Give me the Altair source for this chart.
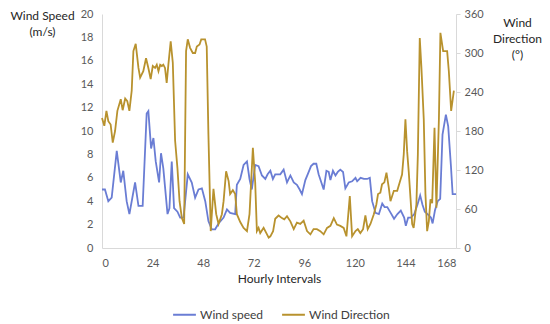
import altair as alt
import pandas as pd

# ---- data ----
speed_hours = [0, 1.4, 3.0, 4.6, 7.0, 8.9, 10.1, 11.7, 13.0, 15.7, 17.3, 19.3, 21.2, 22.0, 23.3, 24.4,
               25.5, 27.1, 28.0, 29.1, 31.1, 32.0, 33.1, 34.2, 35.8, 37.1, 38.7, 40.7, 42.6, 44.2,
               45.8, 47.4, 49.0, 50.5, 52.1, 53.7, 55.3, 57.7, 59.3, 60.8, 63.2, 64.0, 65.6, 67.2,
               68.8, 70.0, 71.1, 72.7, 74.3, 75.9, 77.5, 78.6, 79.9, 81.1, 82.2, 84.6, 86.2, 87.8,
               89.4, 91.0, 92.5, 93.8, 94.9, 96.5, 98.1, 99.2, 100.4, 101.7, 102.8, 104.1, 105.2,
               106.5, 107.6, 108.4, 109.6, 110.8, 111.9, 113.1, 114.4, 115.5, 117.1, 118.7, 120.3,
               121.1, 122.7, 124.3, 125.8, 127.1, 128.2, 129.8, 131.4, 133.0, 134.1, 135.4, 137.0,
               138.6, 140.2, 141.8, 143.4, 144.2, 145.3, 146.6, 148.2, 149.7, 151.0, 152.1, 153.2,
               154.5, 156.1, 156.9, 158.0, 159.3, 160.5, 161.6, 163.2, 164.3, 165.6, 166.4, 168.0]
speed_values = [5.0, 5.0, 4.0, 4.3, 8.3, 5.6, 6.6, 4.0, 2.9, 5.6, 3.6, 3.6, 11.5, 11.7, 8.5, 9.4,
                7.4, 5.6, 8.1, 6.8, 2.9, 3.4, 7.4, 3.4, 3.1, 2.6, 2.6, 6.3, 5.6, 4.3,
                5.0, 5.1, 4.0, 2.3, 1.6, 1.6, 2.1, 2.6, 3.3, 3.0, 2.9, 5.4, 5.9, 7.1,
                7.4, 5.9, 5.0, 7.1, 7.0, 6.2, 5.9, 6.3, 6.6, 5.9, 6.3, 6.3, 6.7, 5.6,
                6.2, 5.6, 5.4, 5.0, 4.6, 5.8, 6.5, 7.0, 7.2, 7.2, 6.3, 5.6, 5.0,
                6.6, 6.5, 5.8, 6.6, 6.2, 6.5, 6.7, 6.5, 5.1, 5.6, 5.7, 6.0,
                5.7, 6.0, 5.9, 5.9, 6.0, 4.0, 3.0, 2.9, 3.8, 3.5, 3.5, 3.0,
                2.5, 2.9, 3.2, 2.6, 1.9, 2.6, 2.6, 2.9, 3.7, 4.5, 3.7, 3.1,
                2.9, 2.6, 2.1, 3.2, 4.0, 4.2, 9.7, 11.4, 10.4, 7.0, 4.6, 4.6]

dir_hours = [0, 1.1, 2.1, 3.0, 4.1, 5.1, 6.2, 7.3, 8.9, 9.8,
             11.0, 12.0, 13.0, 14.1, 14.9, 16.0, 17.3, 18.1, 19.6, 20.9,
             22.0, 23.1, 24.1, 25.2, 26.0, 26.8, 27.6, 28.4, 29.1, 29.9,
             30.7, 31.5, 32.6, 33.6, 34.7, 35.8, 36.8, 37.9, 39.0, 39.9,
             40.7, 41.8, 43.1, 44.2, 45.0, 46.3, 47.1, 48.9, 49.7, 50.5,
             51.6, 52.9, 54.2, 55.3, 56.9, 57.7, 58.9, 60.1, 60.8, 62.1,
             63.2, 64.0, 65.6, 67.2, 68.8, 70.0, 71.6, 72.7, 73.5, 74.3,
             75.1, 76.7, 78.0, 79.1, 79.9, 81.2, 82.2, 83.8, 85.4, 86.5,
             87.8, 89.4, 91.0, 92.5, 94.1, 95.7, 97.3, 98.9, 100.4, 102.0,
             103.6, 105.2, 106.8, 108.4, 110.0, 111.5, 113.1, 114.7, 116.0, 117.6,
             118.7, 120.3, 121.4, 122.6, 123.9, 125.0, 126.1, 127.4, 129.0, 130.2,
             131.0, 132.1, 132.9, 134.0, 135.0, 136.1, 136.9, 138.5, 140.1, 141.3,
             142.4, 143.2, 144.0, 144.8, 145.6, 146.4, 147.2, 147.9, 149.2, 149.9,
             150.8, 151.6, 152.7, 153.5, 154.3, 155.1, 155.9, 156.7, 157.8, 158.7,
             159.9, 160.6, 161.9, 163.0, 163.8, 164.6, 165.7, 167.0]
dir_values = [200, 188, 211, 195, 190, 162, 180, 211, 229, 212,
              230, 226, 211, 242, 303, 314, 277, 262, 272, 292,
              277, 260, 280, 277, 282, 272, 282, 280, 282, 277,
              254, 282, 318, 285, 165, 123, 72, 46, 37, 303,
              321, 308, 300, 300, 310, 313, 321, 321, 310, 175,
              26, 91, 52, 37, 52, 72, 118, 103, 83, 89,
              83, 52, 40, 31, 26, 52, 154, 101, 26, 31,
              23, 31, 23, 16, 18, 26, 45, 50, 46, 44,
              49, 41, 29, 39, 37, 42, 26, 21, 29, 29,
              26, 21, 31, 34, 46, 36, 34, 31, 18, 80,
              18, 26, 29, 23, 29, 50, 29, 37, 52, 67,
              83, 85, 98, 101, 116, 93, 72, 88, 88, 101,
              113, 144, 198, 149, 116, 77, 37, 31, 67, 144,
              323, 277, 198, 83, 26, 41, 75, 69, 185, 62,
              200, 331, 303, 303, 303, 272, 211, 242]

series_names = ["Wind speed", "Wind Direction"]
x_ticks = [0, 24, 48, 72, 96, 120, 144, 168]
speed_ticks = list(range(0, 21, 2))
dir_ticks = list(range(0, 361, 60))

BLUE = "#6A7DD4"
GOLD = "#B8922E"
FONT = "Lato"
LABEL = "#595959"
TITLE = "#262626"

df_s = pd.DataFrame({"hour": speed_hours, "value": speed_values, "series": series_names[0]})
df_d = pd.DataFrame({"hour": dir_hours, "value": dir_values, "series": series_names[1]})

color = alt.Color(
    "series:N",
    scale=alt.Scale(domain=series_names, range=[BLUE, GOLD]),
    legend=alt.Legend(
        orient="none", legendX=70, legendY=288, direction="horizontal", title=None,
        symbolType="stroke", symbolStrokeWidth=2, symbolSize=520,
        labelFont=FONT, labelFontSize=12, labelColor="#404040",
        columnPadding=14, labelOffset=3,
    ),
)

x = alt.X(
    "hour:Q",
    scale=alt.Scale(domain=[0, 168], nice=False),
    axis=alt.Axis(
        values=x_ticks, title="Hourly Intervals", grid=False,
        domainColor="#D9D9D9", tickSize=0, labelPadding=9,
        labelFont=FONT, labelFontSize=11, labelColor=LABEL,
        titleFont=FONT, titleFontSize=12, titleFontWeight="normal", titleColor=TITLE,
        titlePadding=5,
    ),
)

speed = alt.Chart(df_s).mark_line(strokeWidth=1.8).encode(
    x=x,
    y=alt.Y(
        "value:Q",
        scale=alt.Scale(domain=[0, 20], nice=False),
        axis=alt.Axis(
            orient="left", values=speed_ticks, grid=False,
            domainColor="#D9D9D9", tickSize=0, labelPadding=9,
            labelFont=FONT, labelFontSize=11, labelColor=LABEL,
            title=["Wind Speed", "(m/s)"], titleAngle=0, titleAlign="center",
            titleBaseline="top", titleX=-60, titleY=-4, titleLineHeight=16,
            titleFont=FONT, titleFontSize=12, titleFontWeight="normal", titleColor=TITLE,
        ),
    ),
    color=color,
    order=alt.Order("hour:Q"),
)

direction = alt.Chart(df_d).mark_line(strokeWidth=1.8).encode(
    x=x,
    y=alt.Y(
        "value:Q",
        scale=alt.Scale(domain=[0, 360], nice=False),
        axis=alt.Axis(
            orient="right", values=dir_ticks, grid=False,
            domainColor="#D9D9D9", tickColor="#D9D9D9", tickSize=4, labelPadding=4,
            labelFont=FONT, labelFontSize=11, labelColor=LABEL,
            title=["Wind", "Direction", "(°)"], titleAngle=0, titleAlign="center",
            titleBaseline="top", titleX=61, titleY=3, titleLineHeight=16,
            titleFont=FONT, titleFontSize=12, titleFontWeight="normal", titleColor=TITLE,
        ),
    ),
    color=color,
    order=alt.Order("hour:Q"),
)

chart = (
    alt.layer(speed, direction)
    .resolve_scale(y="independent")
    .properties(
        width=354, height=234,
        autosize=alt.AutoSizeParams(type="none"),
        padding={"left": 94, "top": 6, "right": 86, "bottom": 74},
        background="white",
    )
    .configure_view(stroke=None)
)

chart.save("out.html", embed_options={"renderer": "svg", "actions": False})
